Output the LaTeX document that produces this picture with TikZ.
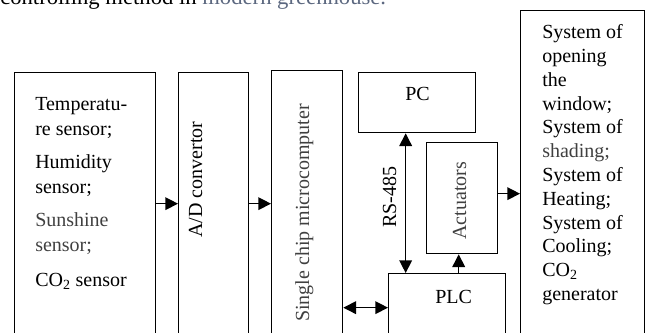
\documentclass[tikz,border=0pt]{standalone}
\usepackage{fontspec}
\setmainfont{Liberation Serif}
\usetikzlibrary{arrows.meta}

\definecolor{softgray}{RGB}{64,64,64}
\definecolor{linkgray}{RGB}{92,104,128}

\tikzset{
  block/.style={draw, rectangle, line width=1pt, inner sep=0pt, anchor=north west},
  conn/.style={line width=1pt, -{Triangle[length=9.5pt,width=9.5pt]}},
  dconn/.style={line width=1pt, {Triangle[length=9.5pt,width=9.5pt]}-{Triangle[length=9.5pt,width=9.5pt]}},
  txt/.style={inner sep=0pt, align=left, font=\fontsize{15}{18.75}\selectfont},
}

\begin{document}
\begin{tikzpicture}[x=0.75pt,y=0.75pt,yscale=-1,xscale=1]
\useasboundingbox (0,0) rectangle (645,332);
\clip (0,0) rectangle (645,332);

% Text Node (caption, cut off at the top)
	\node (cap) at (0,4) [anchor=base west, inner sep=0pt, font=\fontsize{17}{20}\selectfont] {controlling method in \textcolor{linkgray}{modern greenhouse.}};

%Shape: Rectangle
	\node (sensors) at (14,72) [block, minimum width=105.75pt, minimum height=196.5pt] {};
%Shape: Rectangle
	\node (adconv) at (178,72) [block, minimum width=52.5pt, minimum height=196.5pt] {};
%Shape: Rectangle
	\node (mcu) at (271,70) [block, minimum width=53.25pt, minimum height=199.5pt] {};
%Shape: Rectangle
	\node (pc) at (358,72) [block, minimum width=87.75pt, minimum height=45pt] {};
%Shape: Rectangle
	\node (plc) at (388,273) [block, minimum width=87.75pt, minimum height=51pt] {};
%Shape: Rectangle
	\node (act) at (426,142) [block, minimum width=53.25pt, minimum height=83.25pt] {};
%Shape: Rectangle
	\node (sys) at (520,10) [block, minimum width=92.625pt, minimum height=274.5pt] {};

%Straight Lines
	\draw [conn] (sensors.east) -- (adconv.west) ;
	\draw [conn] (adconv.east) -- (mcu.west |- adconv.east) ;
	\draw [dconn] (mcu.east |- plc.west) -- (plc.west) ;
	\draw [dconn] ([xshift=-8.625pt]pc.south) -- ([xshift=-8.625pt]pc.south |- plc.north) ;
	\draw [conn] ([xshift=-2.6pt]act.south |- plc.north) -- ([xshift=-2.6pt]act.south) ;
	\draw [conn] (act.east |- sys.west) -- (sys.west) ;

% Text Node
	\node (sensorstxt) at (35,96.8) [txt, anchor=north west] {Temperatu-\\re sensor;\\[6pt]Humidity\\sensor;\\[6pt]\textcolor{softgray}{Sunshine}\\\textcolor{softgray}{sensor;}\\[8pt]CO\textsubscript{2} sensor};
% Text Node
	\node (adtxt) at (202,238) [txt, anchor=base west, rotate=90] {A/D convertor};
% Text Node
	\node (mcutxt) at (309,322) [txt, anchor=base west, rotate=90, text=softgray] {Single chip microcomputer};
% Text Node
	\node (pctxt) at (405,100) [txt, anchor=base west] {PC};
% Text Node
	\node (rstxt) at (396,228) [txt, anchor=base west, rotate=90] {RS-485};
% Text Node
	\node (acttxt) at (466,240) [txt, anchor=base west, rotate=90, text=softgray] {Actuators};
% Text Node
	\node (plctxt) at (435,303) [txt, anchor=base west] {PLC};
% Text Node
	\node (systxt) at (542,24.3) [txt, anchor=north west, font=\fontsize{15}{17.85}\selectfont] {System of\\opening\\the\\window;\\System of\\\textcolor{softgray}{shading;}\\System of\\Heating;\\System of\\Cooling;\\CO\textsubscript{2}\\generator};

\end{tikzpicture}
\end{document}
